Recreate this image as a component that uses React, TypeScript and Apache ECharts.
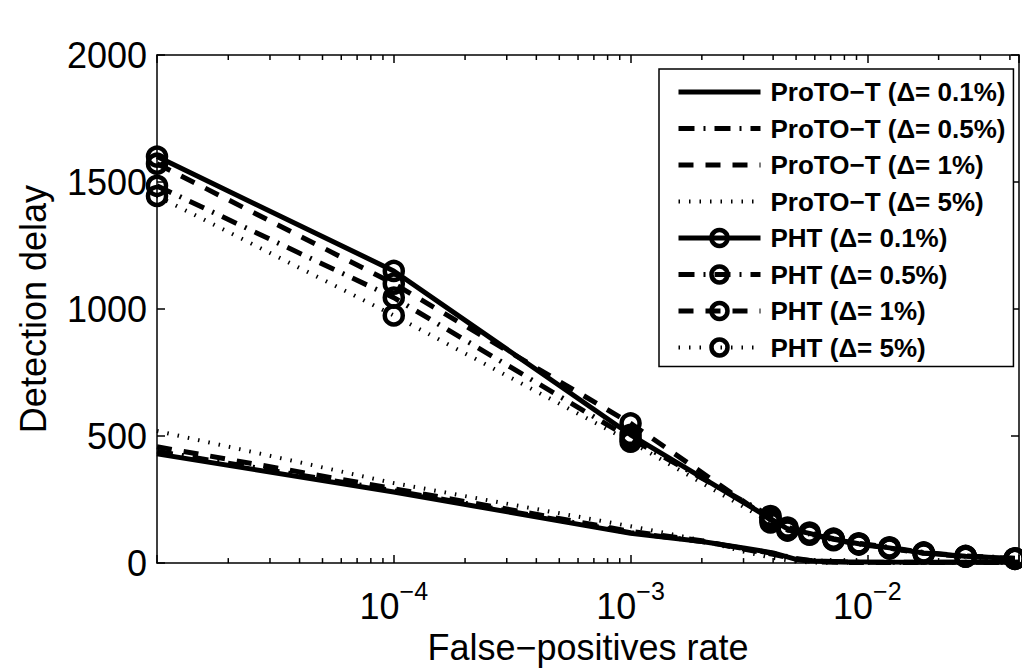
import React, { useEffect, useRef } from "react";
import * as echarts from "echarts";

// PHT curves (markers)
const phtX = [1e-5, 1e-4, 1e-3, 0.0039, 0.0046, 0.0057, 0.0072, 0.0092, 0.0124, 0.0173, 0.026, 0.042];
const pht01 = [1600, 1150, 505, 175, 135, 117, 94, 76, 60, 40, 27, 18];
const pht05 = [1485, 1045, 490, 185, 140, 120, 96, 78, 62, 42, 28, 19];
const pht1 = [1572, 1100, 550, 170, 130, 115, 92, 75, 58, 39, 26, 17];
const pht5 = [1445, 975, 478, 160, 128, 112, 90, 73, 57, 38, 25, 17];

// ProTO-T curves (no markers)
const protoX = [1e-5, 1e-4, 1e-3, 2e-3, 3e-3, 4e-3, 5e-3, 6e-3, 8e-3, 1e-2, 2e-2, 0.0437];
const proto01 = [430, 280, 117, 85, 60, 40, 15, 8, 5, 4, 3, 3];
const proto05 = [440, 285, 120, 85, 58, 38, 18, 8, 4, 3, 3, 3];
const proto1 = [458, 293, 125, 88, 55, 35, 15, 5, 3, 2, 2, 2];
const proto5 = [520, 315, 145, 90, 45, 20, 6, 2, 1, 1, 1, 1];

const seriesNames = [
  "ProTO\u2212T (\u0394= 0.1%)",
  "ProTO\u2212T (\u0394= 0.5%)",
  "ProTO\u2212T (\u0394= 1%)",
  "ProTO\u2212T (\u0394= 5%)",
  "PHT (\u0394= 0.1%)",
  "PHT (\u0394= 0.5%)",
  "PHT (\u0394= 1%)",
  "PHT (\u0394= 5%)",
];

const yTicks = [0, 500, 1000, 1500, 2000];
const xMin = 1e-5;
const xMax = 0.0437;
const minorTicks = [
  2e-5, 3e-5, 4e-5, 5e-5, 6e-5, 7e-5, 8e-5, 9e-5,
  2e-4, 3e-4, 4e-4, 5e-4, 6e-4, 7e-4, 8e-4, 9e-4,
  2e-3, 3e-3, 4e-3, 5e-3, 6e-3, 7e-3, 8e-3, 9e-3,
  2e-2, 3e-2, 4e-2,
];

const FONT = "Liberation Sans, Arial, Helvetica, sans-serif";

const lineStyles: any[] = [
  { type: "solid", width: 5 },
  { type: [16, 9, 2, 9], width: 5 },
  { type: [15, 12], width: 5 },
  { type: [1.5, 9], width: 4 },
];

function pairs(xs: number[], ys: number[]) {
  return xs.map((x, i) => [x, ys[i]]);
}

export default function App() {
  const ref = useRef<HTMLDivElement>(null);
  useEffect(() => {
    if (!ref.current) return;
    const chart = echarts.init(ref.current, undefined, { renderer: "svg" });
    const protoData = [proto01, proto05, proto1, proto5];
    const phtData = [pht01, pht05, pht1, pht5];
    const series: any[] = [];
    protoData.forEach((d, i) => {
      series.push({
        name: seriesNames[i],
        type: "line",
        data: pairs(protoX, d),
        symbol: "circle",
        showSymbol: false,
        symbolSize: 0,
        lineStyle: { color: "#000", width: lineStyles[i].width, type: lineStyles[i].type, cap: "butt" },
        itemStyle: { color: "rgba(0,0,0,0)", borderWidth: 0, borderColor: "rgba(0,0,0,0)" },
        emphasis: { disabled: true },
        z: 3,
      });
    });
    phtData.forEach((d, i) => {
      series.push({
        name: seriesNames[4 + i],
        type: "line",
        data: pairs(phtX, d),
        symbol: "circle",
        symbolSize: 18,
        clip: false,
        lineStyle: { color: "#000", width: lineStyles[i].width, type: lineStyles[i].type, cap: "butt" },
        itemStyle: { color: "rgba(0,0,0,0)", borderColor: "#000", borderWidth: 4.5 },
        emphasis: { disabled: true },
        z: 4,
      });
    });
    series.push({
      type: "custom",
      silent: true,
      xAxisIndex: 0,
      yAxisIndex: 0,
      data: minorTicks.map((v) => [v, 0]),
      encode: { x: 0, y: 1 },
      z: 10,
      renderItem: (params: any, api: any) => {
        const v = api.value(0);
        const b = api.coord([v, 0]);
        const t = api.coord([v, 2000]);
        return {
          type: "group",
          children: [
            { type: "line", shape: { x1: b[0], y1: b[1], x2: b[0], y2: b[1] - 5 }, style: { stroke: "#000", lineWidth: 1.5 } },
            { type: "line", shape: { x1: t[0], y1: t[1], x2: t[0], y2: t[1] + 5 }, style: { stroke: "#000", lineWidth: 1.5 } },
          ],
        };
      },
    });

    const isPow = (v: number) => {
      const l = Math.log10(v);
      return Math.abs(l - Math.round(l)) < 1e-6;
    };

    const xAxisBase: any = {
      type: "log",
      logBase: 10,
      min: xMin,
      max: xMax,
      axisLine: { show: true, onZero: false, lineStyle: { color: "#000", width: 1.5 } },
      axisTick: { show: true, inside: true, length: 8, lineStyle: { color: "#000", width: 1.5 } },
      splitLine: { show: false },
      minorTick: { show: false },
    };

    const legendData = seriesNames.map((n, i) =>
      i < 4
        ? {
            name: n,
            itemStyle: { color: "rgba(0,0,0,0)", borderColor: "rgba(0,0,0,0)", borderWidth: 0 },
            lineStyle: { color: "#000", width: lineStyles[i].width, type: lineStyles[i].type, cap: "butt" },
          }
        : {
            name: n,
            itemStyle: { color: "rgba(0,0,0,0)", borderColor: "#000", borderWidth: 4.5 },
            lineStyle: { color: "#000", width: lineStyles[i - 4].width, type: lineStyles[i - 4].type, cap: "butt" },
          }
    );

    chart.setOption({
      animation: false,
      backgroundColor: "#fff",
      grid: { left: 157, top: 55, right: -1, bottom: 103, containLabel: false },
      legend: {
        data: legendData,
        orient: "vertical",
        left: 659,
        top: 69,
        padding: [10, 8, 6, 17],
        itemWidth: 82,
        itemHeight: 20,
        itemGap: 10.5,
        backgroundColor: "#fff",
        borderColor: "#000",
        borderWidth: 1.5,
        borderRadius: 0,
        selectedMode: false,
        textStyle: {
          fontFamily: FONT,
          fontWeight: "bold",
          fontSize: 26,
          color: "#000",
          lineHeight: 26,
          padding: [0, 0, 0, 5],
        },
      },
      xAxis: [
        {
          ...xAxisBase,
          position: "bottom",
          name: "False\u2212positives rate",
          nameLocation: "middle",
          nameGap: 62,
          nameTextStyle: { fontFamily: FONT, fontSize: 36, color: "#000" },
          axisLabel: {
            show: true,
            margin: 15,
            formatter: (v: number) => {
              if (!isPow(v) || v < 2e-5) return "";
              const e = Math.round(Math.log10(v));
              return "{b|10}{s|\u2212" + Math.abs(e) + "}";
            },
            rich: {
              b: { fontFamily: FONT, fontSize: 36, color: "#000", lineHeight: 56, verticalAlign: "middle" },
              s: { fontFamily: FONT, fontSize: 25, color: "#000", lineHeight: 25, verticalAlign: "top" },
            },
          },
        },
        {
          ...xAxisBase,
          position: "top",
          axisLabel: { show: false },
        },
      ],
      yAxis: [
        {
          type: "value",
          min: yTicks[0],
          max: yTicks[yTicks.length - 1],
          interval: 500,
          position: "left",
          axisLine: { show: true, onZero: false, lineStyle: { color: "#000", width: 1.5 } },
          axisTick: { show: true, inside: true, length: 8, lineStyle: { color: "#000", width: 1.5 } },
          splitLine: { show: false },
          axisLabel: {
            fontFamily: FONT,
            fontSize: 36,
            color: "#000",
            margin: 10,
            formatter: (v: number) => String(v),
          },
          name: "Detection delay",
          nameLocation: "middle",
          nameGap: 106,
          nameRotate: 90,
          nameTextStyle: { fontFamily: FONT, fontSize: 36, color: "#000" },
        },
        {
          type: "value",
          min: yTicks[0],
          max: yTicks[yTicks.length - 1],
          interval: 500,
          position: "right",
          axisLine: { show: true, onZero: false, lineStyle: { color: "#000", width: 1.5 } },
          axisTick: { show: true, inside: true, length: 8, lineStyle: { color: "#000", width: 1.5 } },
          splitLine: { show: false },
          axisLabel: { show: false },
        },
      ],
      series,
    });
    return () => chart.dispose();
  }, []);
  return (
    <div
      ref={ref}
      style={{ position: "fixed", left: 0, top: 0, width: 1022, height: 670, background: "#fff" }}
    />
  );
}
